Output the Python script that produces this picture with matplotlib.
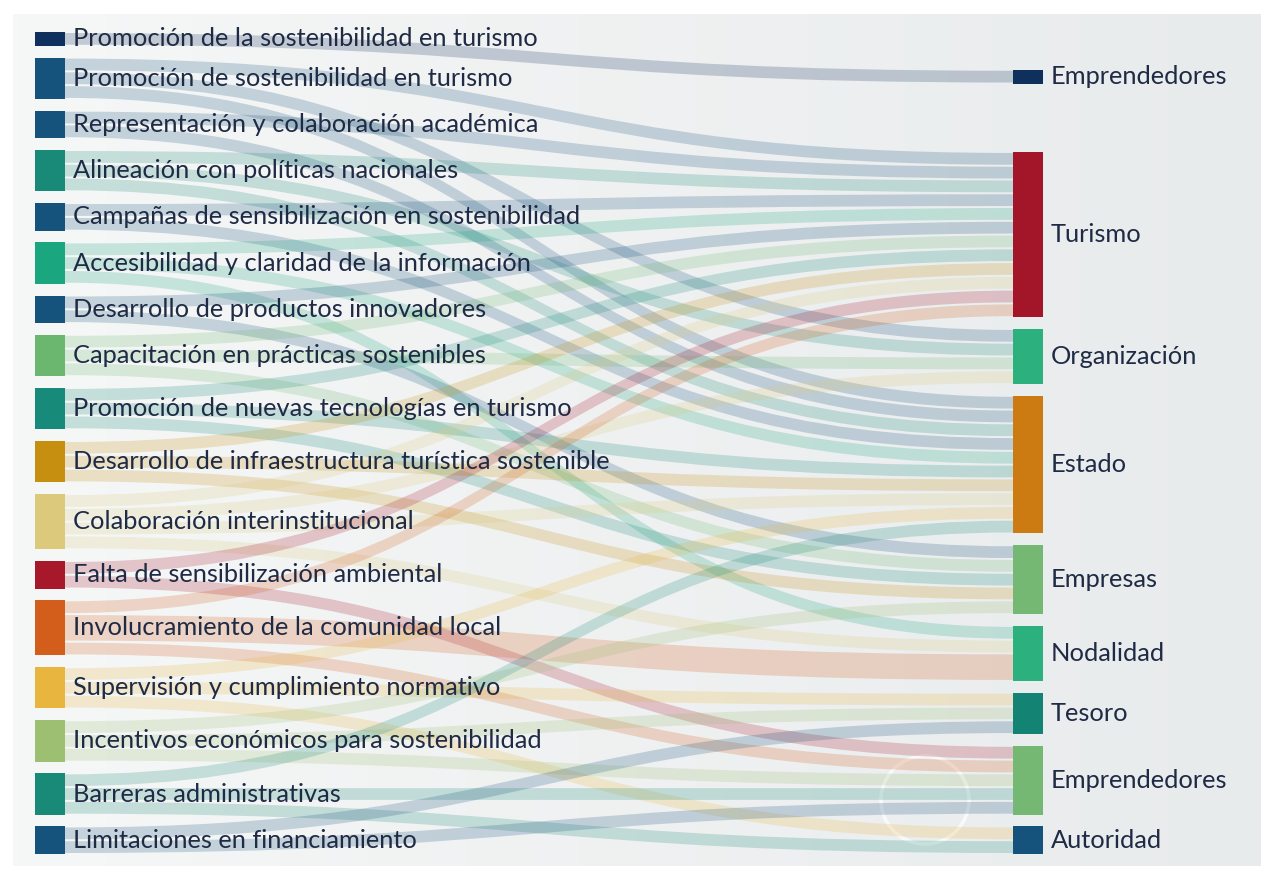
import numpy as np
import matplotlib.pyplot as plt
from matplotlib.path import Path
from matplotlib.patches import PathPatch, Rectangle, Circle
from matplotlib.colors import to_rgb

# Left column (acciones / temas)
left_labels = [
    "Promoción de la sostenibilidad en turismo",
    "Promoción de sostenibilidad en turismo",
    "Representación y colaboración académica",
    "Alineación con políticas nacionales",
    "Campañas de sensibilización en sostenibilidad",
    "Accesibilidad y claridad de la información",
    "Desarrollo de productos innovadores",
    "Capacitación en prácticas sostenibles",
    "Promoción de nuevas tecnologías en turismo",
    "Desarrollo de infraestructura turística sostenible",
    "Colaboración interinstitucional",
    "Falta de sensibilización ambiental",
    "Involucramiento de la comunidad local",
    "Supervisión y cumplimiento normativo",
    "Incentivos económicos para sostenibilidad",
    "Barreras administrativas",
    "Limitaciones en financiamiento",
]
left_colors = ["#0f2f5c", "#15527c", "#15527c", "#1a8a78", "#15527c", "#1aa67e",
               "#15527c", "#6cb770", "#178a7a", "#c68f10", "#dcc97c", "#a8182b",
               "#d35d1b", "#e8b63e", "#9dbf72", "#1a8a78", "#15527c"]

# Right column (actores / instrumentos)
right_labels = ["Emprendedores", "Turismo", "Organización", "Estado", "Empresas",
                "Nodalidad", "Tesoro", "Emprendedores", "Autoridad"]
right_colors = ["#0f2f5c", "#a3162a", "#2bb07e", "#cc7a12", "#74b874",
                "#2bb07e", "#138474", "#74b874", "#15527c"]

# Links: source index (left), target index (right), value
link_src = [0,
            1, 1, 1,
            2, 2,
            3, 3, 3,
            4, 4,
            5, 5, 5,
            6, 6,
            7, 7, 7,
            8, 8, 8,
            9, 9, 9,
            10, 10, 10, 10,
            11, 11,
            12, 12, 12,
            13, 13, 13,
            14, 14, 14,
            15, 15, 15,
            16, 16]
link_tgt = [0,
            1, 2, 3,
            1, 3,
            1, 2, 3,
            1, 3,
            1, 3, 5,
            1, 4,
            1, 2, 4,
            1, 3, 4,
            1, 3, 4,
            1, 2, 3, 5,
            1, 7,
            1, 5, 7,
            3, 6, 8,
            4, 6, 7,
            3, 7, 8,
            6, 7]
link_val = [1,
            1, 1, 1,
            1, 1,
            1, 1, 1,
            1, 1,
            1, 1, 1,
            1, 1,
            1, 1, 1,
            1, 1, 1,
            1, 1, 1,
            1, 1, 1, 1,
            1, 1,
            1, 2, 1,
            1, 1, 1,
            1, 1, 1,
            1, 1, 1,
            1, 1]

# ---- layout (pixel space) ----
W, H = 1261, 873
col_top, col_bottom = 32, 854
gap = 11.8
xl0, xl1 = 35, 65
xr0, xr1 = 1013, 1043
outlier_gap = 5.8 * gap

left_tot = np.zeros(len(left_labels))
right_tot = np.zeros(len(right_labels))
for s, t, v in zip(link_src, link_tgt, link_val):
    left_tot[s] += v
    right_tot[t] += v

unit = (col_bottom - col_top - gap * (len(left_labels) - 1)) / left_tot.sum()

left_y = []
y = col_top
for v in left_tot:
    left_y.append((y, y + v * unit))
    y += v * unit + gap

right_y = [None] * len(right_labels)
y = col_bottom
for i in range(len(right_labels) - 1, 0, -1):
    h = right_tot[i] * unit
    right_y[i] = (y - h, y)
    y -= h + gap
y = right_y[1][0] - outlier_gap
right_y[0] = (y - right_tot[0] * unit, y)

fig = plt.figure(figsize=(W / 100, H / 100), dpi=100)
fig.patch.set_facecolor("white")
ax = fig.add_axes([0, 0, 1, 1])
ax.set_xlim(0, W)
ax.set_ylim(H, 0)
ax.axis("off")

# background panel with a soft horizontal gradient
grad = np.linspace(0, 1, 256)
c0 = np.array(to_rgb("#f6f7f7"))
c1 = np.array(to_rgb("#e8ebec"))
img = c0[None, :] * (1 - grad[:, None]) + c1[None, :] * grad[:, None]
ax.imshow(img[None, :, :], extent=(13, W, 866, 14), aspect="auto", zorder=0)
ax.add_patch(Circle((925, 800), 44, fill=False, ec="white", lw=2.5, alpha=0.7, zorder=1))

# link slots: outgoing sorted by target, incoming sorted by source
order = sorted(range(len(link_src)), key=lambda i: (link_src[i], link_tgt[i]))
src_off = [y0 for y0, _ in left_y]
src_pos = {}
for i in order:
    s = link_src[i]
    src_pos[i] = (src_off[s], src_off[s] + link_val[i] * unit)
    src_off[s] += link_val[i] * unit
order = sorted(range(len(link_src)), key=lambda i: (link_tgt[i], link_src[i]))
tgt_off = [y0 for y0, _ in right_y]
tgt_pos = {}
for i in order:
    t = link_tgt[i]
    tgt_pos[i] = (tgt_off[t], tgt_off[t] + link_val[i] * unit)
    tgt_off[t] += link_val[i] * unit

pad = 1.0
xm = (xl1 + xr0) / 2
for i in range(len(link_src)):
    a0, b0 = src_pos[i]
    a1, b1 = tgt_pos[i]
    a0, b0, a1, b1 = a0 + pad, b0 - pad, a1 + pad, b1 - pad
    verts = [(xl1, a0), (xm, a0), (xm, a1), (xr0, a1),
             (xr0, b1), (xm, b1), (xm, b0), (xl1, b0), (xl1, a0)]
    codes = [Path.MOVETO, Path.CURVE4, Path.CURVE4, Path.CURVE4,
             Path.LINETO, Path.CURVE4, Path.CURVE4, Path.CURVE4, Path.CLOSEPOLY]
    ax.add_patch(PathPatch(Path(verts, codes), fc=left_colors[link_src[i]],
                           ec="none", alpha=0.22, zorder=2))

text_kw = dict(fontsize=18.3, color="#1f2a45", family=["Lato", "DejaVu Sans"],
               va="center", zorder=5)
for (y0, y1), lab, col in zip(left_y, left_labels, left_colors):
    ax.add_patch(Rectangle((xl0, y0), xl1 - xl0, y1 - y0, fc=col, ec="none", zorder=4))
    ax.text(xl1 + 8, (y0 + y1) / 2, lab, ha="left", **text_kw)
for (y0, y1), lab, col in zip(right_y, right_labels, right_colors):
    ax.add_patch(Rectangle((xr0, y0), xr1 - xr0, y1 - y0, fc=col, ec="none", zorder=4))
    ax.text(xr1 + 8, (y0 + y1) / 2, lab, ha="left", **text_kw)

fig.savefig("out.png", dpi=100, facecolor=fig.get_facecolor())
